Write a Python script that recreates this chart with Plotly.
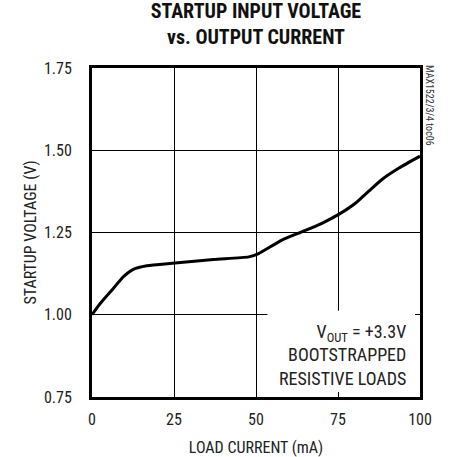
import plotly.graph_objects as go

load_current = [0, 2.5, 6.5, 9.6, 12.6, 16.7, 25.3, 37, 47.8, 50.8, 57.9, 64.0, 70.1, 75.2, 80.3, 84.4, 88.5, 93.6, 100]
startup_voltage = [1.00, 1.034, 1.08, 1.116, 1.138, 1.149, 1.157, 1.168, 1.176, 1.186, 1.227, 1.252, 1.278, 1.305, 1.339, 1.376, 1.412, 1.446, 1.482]

x_ticks = [0, 25, 50, 75, 100]
y_ticks = [0.75, 1.00, 1.25, 1.50, 1.75]
y_tick_labels = ["0.75", "1.00", "1.25", "1.50", "1.75"]

FONT = "Liberation Sans Narrow, Arial Narrow, Roboto Condensed, Liberation Sans, sans-serif"
TXT = "#222"

fig = go.Figure()
fig.add_trace(go.Scatter(
    x=load_current, y=startup_voltage, mode="lines",
    line=dict(color="black", width=3, shape="spline", smoothing=0.6),
    showlegend=False, hoverinfo="skip",
))

axis_common = dict(
    showgrid=True, gridcolor="black", gridwidth=1,
    showline=True, linecolor="black", linewidth=3, mirror="ticks",
    ticks="inside", ticklen=5, tickcolor="black", tickwidth=1,
    zeroline=False, tickfont=dict(size=16, color=TXT), automargin=False,
)

fig.update_xaxes(range=[0, 100], tickvals=x_ticks, ticklabelstandoff=6,
                 title=dict(text="LOAD CURRENT (mA)", font=dict(size=16, color=TXT), standoff=26),
                 **axis_common)
fig.update_yaxes(range=[0.75, 1.75], tickvals=y_ticks, ticktext=y_tick_labels, ticklabelstandoff=14,
                 title=dict(text="STARTUP VOLTAGE (V)", font=dict(size=16, color=TXT), standoff=4),
                 **axis_common)

# white box behind the annotation
fig.add_shape(type="rect", xref="x", yref="y", x0=53.5, x1=100, y0=0.75, y1=1.012,
              fillcolor="white", line=dict(width=0), layer="between")

fig.add_annotation(
    xref="x", yref="y", x=96.3, y=0.878, xanchor="right", yanchor="middle",
    text="V<sub>OUT</sub> = +3.3V<br>BOOTSTRAPPED<br>RESISTIVE LOADS",
    showarrow=False, align="right", font=dict(size=18, color=TXT),
)
fig.add_annotation(
    xref="paper", yref="paper", x=1.0, y=1.0, xanchor="left", yanchor="top", xshift=2, yshift=5,
    text="MAX1522/3/4 toc06", textangle=90, showarrow=False,
    font=dict(size=10, color="#333"),
)

fig.update_layout(
    width=449, height=457,
    margin=dict(l=92, r=29, t=68, b=60, autoexpand=False),
    paper_bgcolor="white", plot_bgcolor="white",
    font=dict(family=FONT, color=TXT),
    title=dict(text="<b>STARTUP INPUT VOLTAGE<br>vs. OUTPUT CURRENT</b>",
               x=0.57, xanchor="center", y=0.96, yanchor="top",
               font=dict(size=20, color="#111")),
)

fig.write_html("out.html", config={"displayModeBar": False},
               post_script="document.body.style.margin='0';")
